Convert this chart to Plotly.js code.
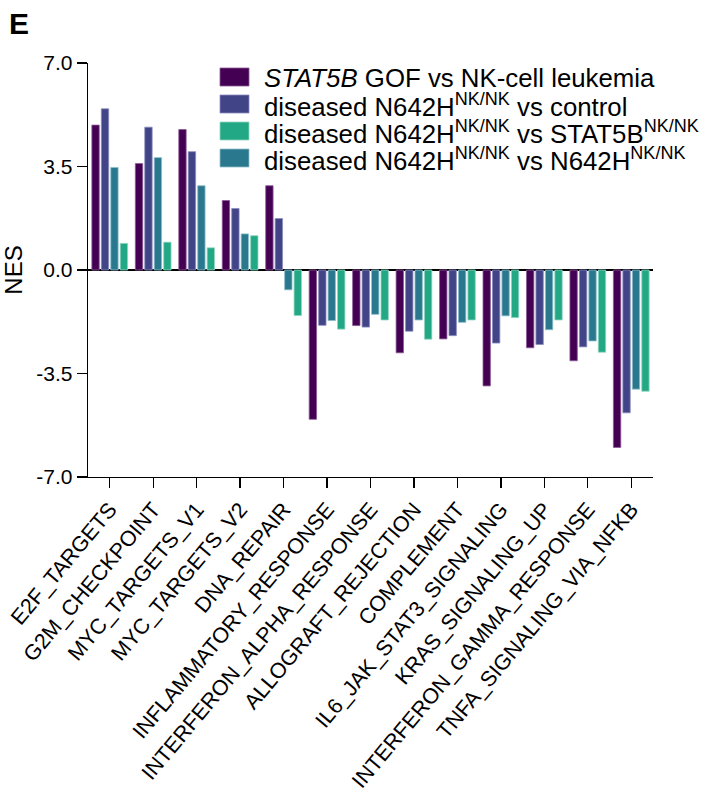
<!DOCTYPE html>
<html>
<head>
<meta charset="utf-8">
<script src="https://cdn.plot.ly/plotly-3.0.1.min.js"></script>
<style>html,body{margin:0;padding:0;background:#fff;}#chart{width:713px;height:806px;}</style>
</head>
<body>
<div id="chart"></div>
<script>
// ---- data ----
const categories = ['E2F_TARGETS','G2M_CHECKPOINT','MYC_TARGETS_V1','MYC_TARGETS_V2','DNA_REPAIR',
  'INFLAMMATORY_RESPONSE','INTERFERON_ALPHA_RESPONSE','ALLOGRAFT_REJECTION','COMPLEMENT',
  'IL6_JAK_STAT3_SIGNALING','KRAS_SIGNALING_UP','INTERFERON_GAMMA_RESPONSE','TNFA_SIGNALING_VIA_NFKB'];
const gofVsLeukemia = [4.90, 3.60, 4.75, 2.35, 2.85, -5.05, -1.88, -2.80, -2.33, -3.92, -2.63, -3.07, -6.00];
const n642hVsControl = [5.45, 4.83, 4.00, 2.08, 1.74, -1.87, -1.93, -2.07, -2.22, -2.47, -2.52, -2.60, -4.83];
const n642hVsN642h = [3.47, 3.80, 2.85, 1.22, -0.67, -1.71, -1.50, -1.69, -1.77, -1.55, -2.02, -2.40, -4.03];
const n642hVsStat5b = [0.90, 0.94, 0.75, 1.16, -1.54, -2.00, -1.69, -2.34, -1.69, -1.61, -1.69, -2.78, -4.10];
const seriesNames = [
  '<i>STAT5B</i> GOF vs NK-cell leukemia',
  'diseased N642H<sup>NK/NK</sup> vs control',
  'diseased N642H<sup>NK/NK</sup> vs STAT5B<sup>NK/NK</sup>',
  'diseased N642H<sup>NK/NK</sup> vs N642H<sup>NK/NK</sup>'
];
const yTicks = [-7, -3.5, 0, 3.5, 7];
const yTickText = ['-7.0', '-3.5', '0.0', '3.5', '7.0'];

// ---- styles ----
const colors = ['#440154', '#414487', '#22A884', '#2A788E'];
const edgeColors = ['#8a5a95', '#8a8cbc', '#8fd6c2', '#8fbfcc'];
const FONT = 'Liberation Sans, Arial, Helvetica, sans-serif';

// bar order within group: purple, blue, teal, green
const barSeries = [
  {y: gofVsLeukemia, idx: 0},
  {y: n642hVsControl, idx: 1},
  {y: n642hVsN642h, idx: 3},
  {y: n642hVsStat5b, idx: 2}
];
const traces = barSeries.map(s => ({
  type: 'bar',
  x: categories,
  y: s.y,
  name: seriesNames[s.idx],
  marker: {color: colors[s.idx], line: {color: edgeColors[s.idx], width: 0.8}},
  showlegend: false,
  hoverinfo: 'x+y'
}));

// plot area in pixels
const L = 88, R = 60, T = 63, B = 329, W = 713, H = 806;
const pw = W - L - R, ph = H - T - B;
const px = x => (x - L) / pw;
const py = y => (H - B - y) / ph;

// custom legend (order: purple, blue, green, teal)
const shapes = [];
const annotations = [];
const rowY = [77, 104, 131, 158];
for (let i = 0; i < 4; i++) {
  shapes.push({type: 'rect', xref: 'paper', yref: 'paper',
    x0: px(220), x1: px(249), y0: py(rowY[i] + 9), y1: py(rowY[i] - 9),
    fillcolor: colors[i], line: {color: edgeColors[i], width: 0.8}});
  annotations.push({xref: 'paper', yref: 'paper', x: px(262), y: py(rowY[i] + 1),
    xanchor: 'left', yanchor: 'middle', showarrow: false, text: seriesNames[i],
    font: {family: FONT, size: 25.8, color: '#000'}});
}
annotations.push({xref: 'paper', yref: 'paper', x: px(7), y: py(5), xanchor: 'left', yanchor: 'top',
  showarrow: false, text: '<b>E</b>', font: {family: FONT, size: 30, color: '#000'}});

const layout = {
  width: W, height: H,
  margin: {l: L, r: R, t: T, b: B, pad: 0},
  paper_bgcolor: '#fff', plot_bgcolor: '#fff',
  font: {family: FONT, color: '#000'},
  barmode: 'group',
  bargap: 0.13,
  bargroupgap: 0.22,
  showlegend: false,
  xaxis: {
    type: 'category',
    showline: true, linecolor: '#000', linewidth: 1.3,
    ticks: 'outside', ticklen: 10, tickwidth: 1.3, tickcolor: '#000',
    tickangle: -50,
    tickfont: {family: FONT, size: 21.5, color: '#000'},
    showgrid: false, zeroline: false,
    fixedrange: true
  },
  yaxis: {
    range: [-7, 7],
    tickvals: yTicks, ticktext: yTickText,
    showline: true, linecolor: '#000', linewidth: 1.3,
    ticks: 'outside', ticklen: 10, tickwidth: 1.3, tickcolor: '#000',
    tickfont: {family: FONT, size: 21, color: '#000'},
    showgrid: false,
    zeroline: true, zerolinecolor: '#000', zerolinewidth: 1.3,
    title: {text: 'NES', font: {family: FONT, size: 24, color: '#000'}, standoff: 9},
    fixedrange: true
  },
  shapes: shapes,
  annotations: annotations
};

Plotly.newPlot('chart', traces, layout, {displayModeBar: false, staticPlot: true});
</script>
</body>
</html>
